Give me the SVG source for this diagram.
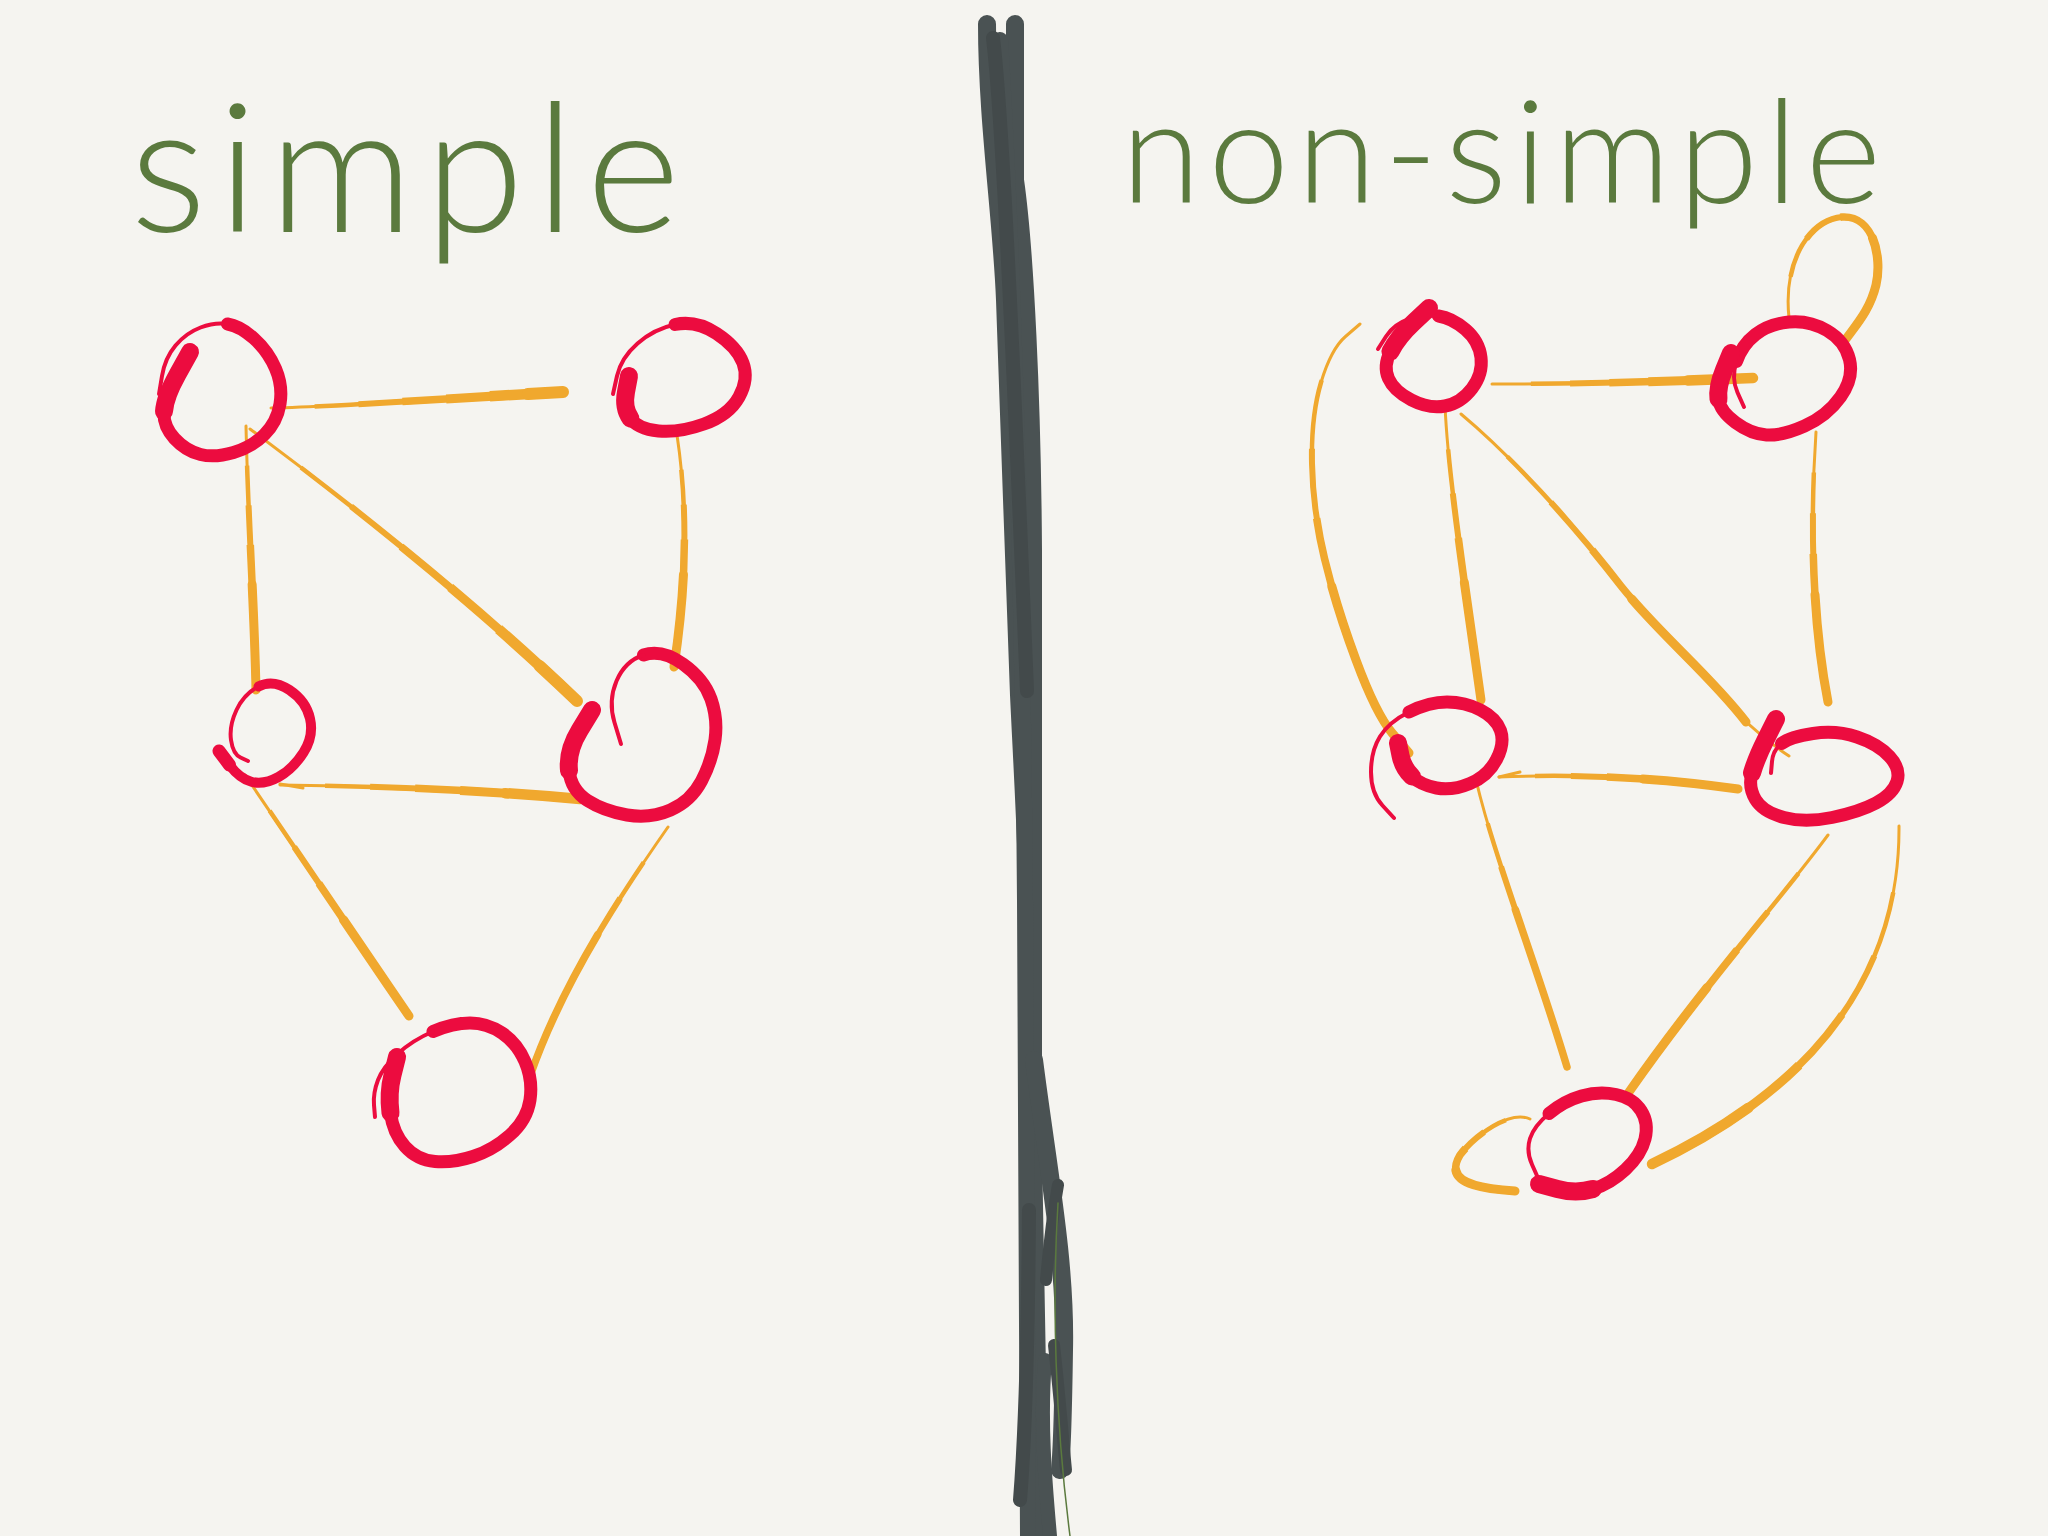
<svg xmlns="http://www.w3.org/2000/svg" width="2048" height="1536" viewBox="0 0 2048 1536">
<style>
.r{fill:none;stroke:#ec0c3f;stroke-linecap:round;stroke-linejoin:round}
.rm{stroke-width:13}
.rh{stroke-width:18}
.rt{stroke-width:4}
.o{fill:none;stroke:#f0a82e;stroke-linecap:round;stroke-linejoin:round}
.o use{stroke-linecap:butt}
.o use.cap{stroke-linecap:round}
.w1{stroke-width:3}
.w2{stroke-width:4.5;stroke-dasharray:85 15;stroke-dashoffset:85}
.w3{stroke-width:6;stroke-dasharray:70 30;stroke-dashoffset:70}
.w4{stroke-width:7.5;stroke-dasharray:55 45;stroke-dashoffset:55}
.w5{stroke-width:9;stroke-dasharray:40 60;stroke-dashoffset:40}
.w6{stroke-width:10.5;stroke-dasharray:25 75;stroke-dashoffset:25}
.w7{stroke-width:12;stroke-dasharray:12 88;stroke-dashoffset:12}
.dv{fill:none;stroke:#4a5253;stroke-linecap:round;stroke-linejoin:round}
.dk{stroke:#434a4b}
.lbl{font-family:Lato,"Open Sans","Liberation Sans",sans-serif;font-weight:300;fill:#5b7a3e}
</style>
<rect width="2048" height="1536" fill="#f5f4f0"/>

<g id="label-simple"><text class="lbl" x="130" y="232" font-size="180" textLength="550" lengthAdjust="spacing">simple</text></g>
<g id="label-non-simple"><text class="lbl" x="1121" y="203" font-size="145" textLength="760" lengthAdjust="spacing">non-simple</text></g>

<g id="divider" class="dv">
<path stroke-width="18" d="M987,24 C987,120 1002,220 1005,300 C1010,450 1014,550 1019,695 C1024,800 1028,860 1029,950 L1030,1536"/>
<path stroke-width="18" d="M1015,24 L1015,180 C1025,250 1032,400 1033,550 L1033,1150 L1040,1536"/>
<path stroke-width="16" d="M1000,40 C1010,200 1022,500 1025,900 L1028,1536"/>
<path stroke-width="18" d="M1034,1060 C1048,1170 1066,1260 1064,1350 C1063,1420 1062,1450 1060,1470"/>
<path class="dk" stroke-width="14" d="M993,38 C1003,120 1015,400 1027,691"/>
<path class="dk" stroke-width="14" d="M1029,1210 C1028,1350 1024,1450 1020,1500"/>
<path class="dk" stroke-width="12" d="M1058,1185 C1050,1230 1048,1260 1046,1280"/>
<path stroke-width="14" d="M1045,1360 C1040,1420 1045,1480 1050,1536"/>
<path class="dk" stroke-width="12" d="M1054,1345 C1060,1400 1063,1440 1066,1470"/>
<path stroke-width="1.5" stroke="#5b7a3e" d="M1058,1203 C1052,1300 1055,1420 1070,1536"/>
</g>

<g id="connectors" class="o">
<g class="w1">
<path id="eAB" pathLength="100" d="M271,408 C350,406 450,398 563,392"/>
<path id="eAC" pathLength="100" d="M246,426 C248,520 254,600 256,690"/>
<path id="eAD" pathLength="100" d="M250,429 C335,492 470,598 577,701"/>
<path id="eBD" pathLength="100" d="M677,435 C690,520 684,600 674,667"/>
<path id="eCD" pathLength="100" d="M280,785 C380,786 480,790 580,799"/>
<path id="eCE" pathLength="100" d="M245,775 C290,840 350,930 409,1016"/>
<path id="eDE" pathLength="100" d="M668,827 C610,910 560,990 530,1076"/>
<path id="ePRarc" pathLength="100" d="M1360,324 L1345.5,336.5 Q1331,349 1321,382.5 Q1311,416 1312,463.5 Q1313,511 1324.5,558.5 Q1336,606 1356,660 Q1376,714 1392.5,733.5 L1409,753"/>
<path id="ePQ" pathLength="100" d="M1492,384 Q1612,384 1753,378"/>
<path id="ePR" pathLength="100" d="M1445,405 C1448,480 1470,620 1481,700"/>
<path id="ePS" pathLength="100" d="M1461,414 C1510,455 1570,520 1621,586 C1660,635 1710,675 1746,722"/>
<path id="eQS" pathLength="100" d="M1816,432 C1810,520 1812,620 1828,702"/>
<path id="eRS" pathLength="100" d="M1499,777 Q1620,772 1738,789"/>
<path id="eRT" pathLength="100" d="M1476,780 C1495,860 1535,960 1567,1067"/>
<path id="eST" pathLength="100" d="M1828,835 C1780,900 1700,990 1629,1092"/>
<path id="eSTarc" pathLength="100" d="M1899,826 C1900,960 1830,1080 1652,1164"/>
<path id="eQQ" pathLength="100" d="M1789,318 C1783,260 1810,220 1842,217 C1875,215 1882,260 1876,285 C1870,310 1856,325 1846,339"/>
<path id="eTT" pathLength="100" d="M1530,1119 C1510,1110 1475,1135 1460,1155 C1445,1180 1470,1188 1515,1191"/>
<path d="M280,784 L303,788"/>
<path d="M1499,777 L1520,772"/>
<path d="M1740,716 Q1765,740 1789,756"/>
</g>
<use href="#eAB" class="w2"/><use href="#eAB" class="w3"/><use href="#eAB" class="w4"/><use href="#eAB" class="w5"/><use href="#eAB" class="w6"/><use href="#eAB" class="w7 cap"/>
<use href="#eAD" class="w2"/><use href="#eAD" class="w3"/><use href="#eAD" class="w4"/><use href="#eAD" class="w5"/><use href="#eAD" class="w6"/><use href="#eAD" class="w7 cap"/>
<use href="#eAC" class="w2"/><use href="#eAC" class="w3"/><use href="#eAC" class="w4"/><use href="#eAC" class="w5 cap"/>
<use href="#eBD" class="w2"/><use href="#eBD" class="w3"/><use href="#eBD" class="w4"/><use href="#eBD" class="w5 cap"/>
<use href="#eCD" class="w2"/><use href="#eCD" class="w3"/><use href="#eCD" class="w4"/><use href="#eCD" class="w5"/><use href="#eCD" class="w6 cap"/>
<use href="#eCE" class="w2"/><use href="#eCE" class="w3"/><use href="#eCE" class="w4"/><use href="#eCE" class="w5 cap"/>
<use href="#eDE" class="w2"/><use href="#eDE" class="w3"/><use href="#eDE" class="w4 cap"/>
<use href="#ePRarc" class="w2"/><use href="#ePRarc" class="w3"/><use href="#ePRarc" class="w4"/><use href="#ePRarc" class="w5 cap"/>
<use href="#ePQ" class="w2"/><use href="#ePQ" class="w3"/><use href="#ePQ" class="w4"/><use href="#ePQ" class="w5"/><use href="#ePQ" class="w6 cap"/>
<use href="#ePR" class="w2"/><use href="#ePR" class="w3"/><use href="#ePR" class="w4"/><use href="#ePR" class="w5 cap"/>
<use href="#ePS" class="w2"/><use href="#ePS" class="w3"/><use href="#ePS" class="w4"/><use href="#ePS" class="w5 cap"/>
<use href="#eQS" class="w2"/><use href="#eQS" class="w3"/><use href="#eQS" class="w4"/><use href="#eQS" class="w5 cap"/>
<use href="#eRS" class="w2"/><use href="#eRS" class="w3"/><use href="#eRS" class="w4"/><use href="#eRS" class="w5 cap"/>
<use href="#eRT" class="w2"/><use href="#eRT" class="w3"/><use href="#eRT" class="w4 cap"/>
<use href="#eST" class="w2"/><use href="#eST" class="w3"/><use href="#eST" class="w4"/><use href="#eST" class="w5 cap"/>
<use href="#eSTarc" class="w2"/><use href="#eSTarc" class="w3"/><use href="#eSTarc" class="w4"/><use href="#eSTarc" class="w5"/><use href="#eSTarc" class="w6 cap"/>
<use href="#eQQ" class="w2"/><use href="#eQQ" class="w3"/><use href="#eQQ" class="w4"/><use href="#eQQ" class="w5 cap"/>
<use href="#eTT" class="w2"/><use href="#eTT" class="w3"/><use href="#eTT" class="w4"/><use href="#eTT" class="w5 cap"/>
</g>

<g id="node-A" class="r">
<path class="rm" d="M190,352 L177.5,374.5 Q165,397 164,411.5 Q163,426 174.5,438.5 Q186,451 200.5,454.5 Q215,458 233.5,452.5 Q252,447 264.5,434.5 Q277,422 280,404 Q283,386 275.5,368.5 Q268,351 254,338.5 Q240,326 227.5,324"/>
<path class="rt" d="M227.5,324 Q215,322 200.5,327.5 Q186,333 175.5,345.5 Q165,358 162,376 L159,394"/>
<path class="rh" d="M190,352 L177.5,374.5 Q165,397 164,411.5"/>
</g>
<g id="node-B" class="r">
<path class="rm" d="M629,376 L626,392 Q623,408 630.5,418.5 Q638,429 658.5,431 Q679,433 704,424 Q729,415 739,397 Q749,379 743,363 Q737,347 716.5,333.5 Q696,320 675,324.5"/>
<path class="rt" d="M675,324.5 Q654,329 637.5,343.5 Q621,358 617,376 L613,394"/>
<path class="rh" d="M629,376 L626,392 Q623,408 630.5,418.5"/>
</g>
<g id="node-C" class="r">
<path stroke-width="10" d="M219,751 L229.5,765 Q240,779 252,782 Q264,785 278.5,777 Q293,769 303.5,752.5 Q314,736 310,718.5 Q306,701 289.5,690 Q273,679 258.5,686.5"/>
<path class="rt" d="M258.5,686.5 Q244,694 236.5,710 Q229,726 231,740 Q233,754 240.5,757.5 L248,761"/>
<path stroke-width="13" d="M219,751 L229.5,765"/>
</g>
<g id="node-D" class="r">
<path class="rm" d="M592,710 L579.5,730.5 Q567,751 569,770.5 Q571,790 587.5,800.5 Q604,811 627,815 Q650,819 670.5,810 Q691,801 701.5,781 Q712,761 715,740 Q718,719 711,699 Q704,679 683,664 Q662,649 643.5,655"/>
<path class="rt" d="M643.5,655 Q625,661 616.5,681 Q608,701 614.5,722.5 L621,744"/>
<path class="rh" d="M592,710 L579.5,730.5 Q567,751 569,770.5"/>
</g>
<g id="node-E" class="r">
<path class="rm" d="M397,1057 L392.5,1075 Q388,1093 390.5,1113 Q393,1133 405,1146.5 Q417,1160 435,1161.5 Q453,1163 473,1156.5 Q493,1150 510,1135 Q527,1120 530,1100 Q533,1080 525,1061.5 Q517,1043 502,1033 Q487,1023 470,1023 Q453,1023 433,1031.5"/>
<path class="rt" d="M433,1031.5 Q413,1040 398,1053.5 Q383,1067 378,1080 Q373,1093 374,1105 L375,1117"/>
<path class="rh" d="M397,1057 L392.5,1075 Q388,1093 390.5,1113"/>
</g>

<g id="node-P" class="r">
<path class="rm" d="M1429,308 L1413.5,322.5 Q1398,337 1390.5,351.5 Q1383,366 1388.5,378.5 Q1394,391 1411.5,400 Q1429,409 1445,406 Q1461,403 1472,388.5 Q1483,374 1481,357.5 Q1479,341 1465.5,329.5 Q1452,318 1438.5,316"/>
<path class="rt" d="M1438.5,316 Q1425,314 1409.5,319 Q1394,324 1386,336.5 L1378,349"/>
<path class="rh" d="M1429,308 L1413.5,322.5 Q1398,337 1390.5,351.5"/>
</g>
<g id="node-Q" class="r">
<path class="rm" d="M1731,353 L1724,370 Q1717,387 1718.5,399 Q1720,411 1735.5,422.5 Q1751,434 1766.5,435 Q1782,436 1804.5,426 Q1827,416 1840.5,397 Q1854,378 1849.5,359.5 Q1845,341 1827,330.5 Q1809,320 1789,322 Q1769,324 1755.5,334.5 Q1742,345 1736.5,361.5"/>
<path class="rt" d="M1736.5,361.5 Q1731,378 1737.5,392.5 L1744,407"/>
<path class="rh" d="M1731,353 L1724,370 Q1717,387 1718.5,399"/>
</g>
<g id="node-R" class="r">
<path class="rm" d="M1398,743 L1400.5,755.5 Q1403,768 1412,776.5 Q1421,785 1436.5,788 Q1452,791 1470,783.5 Q1488,776 1496.5,759.5 Q1505,743 1500.5,730.5 Q1496,718 1480.5,710 Q1465,702 1447,702 Q1429,702 1409,712"/>
<path class="rt" d="M1409,712 Q1389,722 1380,736.5 Q1371,751 1371,772 Q1371,793 1382.5,805.5 L1394,818"/>
<path class="rh" d="M1398,743 L1400.5,755.5 Q1403,768 1412,776.5"/>
</g>
<g id="node-S" class="r">
<path class="rm" d="M1776,719 L1766,739 Q1756,759 1752,773 Q1748,787 1755.5,799.5 Q1763,812 1784,817.5 Q1805,823 1832,817.5 Q1859,812 1876,803 Q1893,794 1897,781.5 Q1901,769 1889.5,756.5 Q1878,744 1857,737 Q1836,730 1813,733.5 Q1790,737 1781.5,743.5"/>
<path class="rt" d="M1781.5,743.5 Q1773,750 1772,761.5 L1771,773"/>
<path class="rh" d="M1776,719 L1766,739 Q1756,759 1752,773"/>
</g>
<g id="node-T" class="r">
<path class="rm" d="M1539,1184 L1557.5,1189 Q1576,1194 1593,1189 Q1610,1184 1625.5,1169.5 Q1641,1155 1645,1139 Q1649,1123 1641,1110.5 Q1633,1098 1616,1094.5 Q1599,1091 1581.5,1096 Q1564,1101 1549,1113.5"/>
<path class="rt" d="M1549,1113.5 Q1534,1126 1530,1138.5 Q1526,1151 1532,1164.5 L1538,1178"/>
<path class="rh" d="M1539,1184 L1557.5,1189 Q1576,1194 1593,1189"/>
</g>
</svg>
